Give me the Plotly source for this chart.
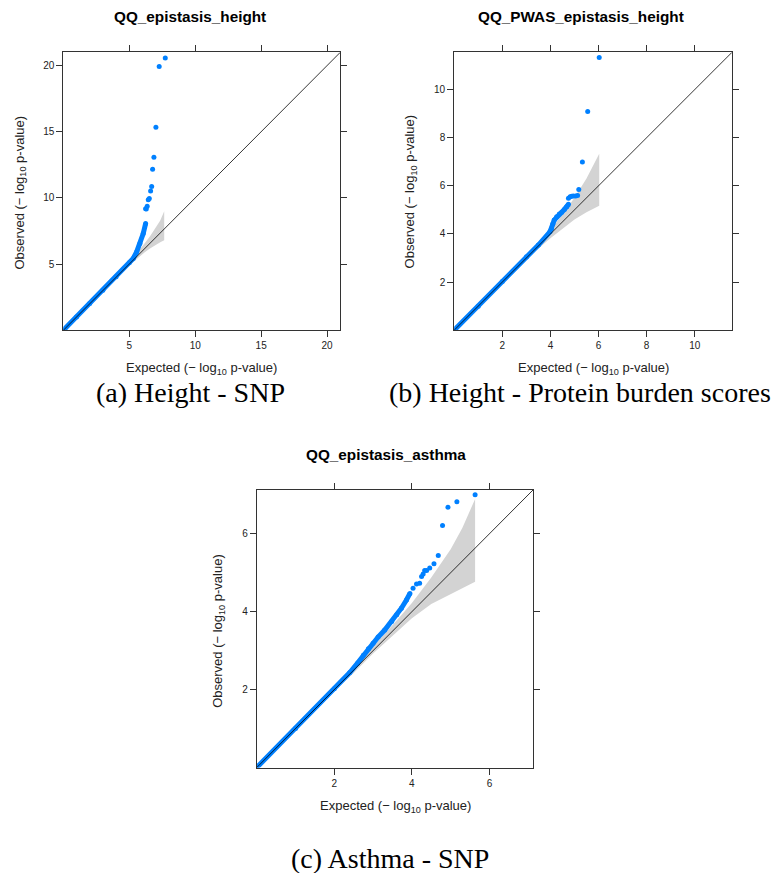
import plotly.graph_objects as go

# ---- QQ data: -log10 p-values (expected vs observed) ----
# Panel (a): epistasis, height, SNP
a_body_exp = [0.0, 1.0, 2.0, 3.0, 4.0, 5.0, 5.30, 5.56, 5.81, 6.06, 6.24]
a_body_obs = [0.0, 1.0, 2.02, 3.03, 4.05, 5.10, 5.43, 5.92, 6.56, 7.31, 8.06]
a_tail_exp = [6.24, 6.29, 6.36, 6.44, 6.52, 6.62, 6.70, 6.77, 6.87, 7.02, 7.27, 7.73]
a_tail_obs = [9.19, 9.17, 9.37, 9.87, 9.95, 10.52, 10.87, 12.16, 13.08, 15.34, 19.92, 20.57]
a_band_exp = [5.0, 5.4, 5.8, 6.2, 6.6, 7.0, 7.35, 7.65]
a_band_hi = [5.12, 5.6, 6.1, 6.62, 7.15, 7.75, 8.3, 8.99]
a_band_lo = [4.9, 5.25, 5.6, 5.92, 6.2, 6.45, 6.65, 6.8]
a_lim = 21.0
a_ticks = [5, 10, 15, 20]

# Panel (b): PWAS epistasis, height, protein burden scores
b_body_exp = [0.0, 1.0, 2.0, 3.0, 3.5, 3.98, 4.05, 4.10, 4.16, 4.26, 4.37, 4.47, 4.58, 4.68, 4.75]
b_body_obs = [0.0, 1.0, 2.02, 3.04, 3.54, 4.09, 4.23, 4.41, 4.58, 4.71, 4.83, 4.90, 5.02, 5.13, 5.23]
b_tail_exp = [4.75, 4.82, 4.88, 4.95, 5.05, 5.13, 5.18, 5.33, 5.55, 6.03]
b_tail_obs = [5.48, 5.55, 5.57, 5.58, 5.58, 5.60, 5.85, 6.99, 9.09, 11.33]
b_band_exp = [3.0, 3.5, 4.0, 4.5, 5.0, 5.5, 6.03]
b_band_hi = [3.05, 3.6, 4.17, 4.8, 5.5, 6.3, 7.33]
b_band_lo = [2.95, 3.4, 3.82, 4.22, 4.6, 4.9, 5.17]
b_lim = 11.55
b_ticks = [2, 4, 6, 8, 10]

# Panel (c): epistasis, asthma, SNP
c_body_exp = [0.0, 1.0, 2.0, 2.4, 2.6, 2.75, 2.88, 3.0, 3.13, 3.30, 3.48, 3.61, 3.73, 3.86, 3.95]
c_body_obs = [0.0, 1.0, 2.02, 2.44, 2.68, 2.88, 3.05, 3.19, 3.35, 3.53, 3.75, 3.92, 4.09, 4.30, 4.47]
c_tail_exp = [4.03, 4.12, 4.20, 4.25, 4.29, 4.33, 4.38, 4.46, 4.57, 4.68, 4.79, 4.93, 5.16, 5.63]
c_tail_obs = [4.60, 4.71, 4.73, 4.90, 4.97, 5.06, 5.06, 5.12, 5.23, 5.44, 6.21, 6.68, 6.82, 7.00]
c_band_exp = [2.0, 2.5, 3.0, 3.5, 4.0, 4.5, 5.0, 5.3, 5.63]
c_band_hi = [2.03, 2.57, 3.1, 3.65, 4.22, 4.88, 5.6, 6.15, 6.89]
c_band_lo = [1.97, 2.43, 2.93, 3.38, 3.83, 4.2, 4.45, 4.6, 4.77]
c_lim = 7.13
c_ticks = [2, 4, 6]

titles = ["QQ_epistasis_height", "QQ_PWAS_epistasis_height", "QQ_epistasis_asthma"]
captions = ["(a) Height - SNP", "(b) Height - Protein burden scores", "(c) Asthma - SNP"]

W, H = 775, 873
POINT = "#0080ff"
BAND = "#d3d3d3"
FRAME = "#333333"
SANS = "Liberation Sans, Arial, sans-serif"
SERIF = "Liberation Serif, Times New Roman, serif"

XLAB = "Expected (\u2212 log<sub>10</sub> p-value)"
YLAB = "Observed (\u2212 log<sub>10</sub> p-value)"


def px(x):
    return x / W


def py(y):
    return 1 - y / H


fig = go.Figure()

panels = [
    dict(body=(a_body_exp, a_body_obs), tail=(a_tail_exp, a_tail_obs),
         band=(a_band_exp, a_band_hi, a_band_lo), lim=a_lim, ticks=a_ticks,
         box=(63.3, 340.3, 52.3, 330.3), title=(190, 16), xlab=(201.7, 368.3),
         ylab=(20, 192.5), cap=(190, 393)),
    dict(body=(b_body_exp, b_body_obs), tail=(b_tail_exp, b_tail_obs),
         band=(b_band_exp, b_band_hi, b_band_lo), lim=b_lim, ticks=b_ticks,
         box=(454.2, 732.0, 52.3, 330.2), title=(581, 16), xlab=(593.2, 368.3),
         ylab=(410.7, 191.7), cap=(580, 393)),
    dict(body=(c_body_exp, c_body_obs), tail=(c_tail_exp, c_tail_obs),
         band=(c_band_exp, c_band_hi, c_band_lo), lim=c_lim, ticks=c_ticks,
         box=(256.7, 533.3, 489.7, 767.6), title=(386, 454), xlab=(395, 806),
         ylab=(219, 630.8), cap=(390, 858)),
]

annotations = []
for i, p in enumerate(panels, start=1):
    xa = "x" if i == 1 else f"x{i}"
    ya = "y" if i == 1 else f"y{i}"
    bx, bhi, blo = p["band"]

    # confidence band
    fig.add_trace(go.Scatter(
        x=bx + bx[::-1], y=bhi + blo[::-1], mode="lines", fill="toself",
        fillcolor=BAND, line=dict(width=0, color=BAND), hoverinfo="skip",
        xaxis=xa, yaxis=ya))
    # dense bulk of the observed p-values
    fig.add_trace(go.Scatter(
        x=p["body"][0], y=p["body"][1], mode="lines+markers",
        line=dict(color=POINT, width=5), marker=dict(color=POINT, size=5),
        xaxis=xa, yaxis=ya))
    # individual tail points
    fig.add_trace(go.Scatter(
        x=p["tail"][0], y=p["tail"][1], mode="markers",
        marker=dict(color=POINT, size=5), xaxis=xa, yaxis=ya))
    # identity line
    fig.add_trace(go.Scatter(
        x=[0, p["lim"]], y=[0, p["lim"]], mode="lines",
        line=dict(color="black", width=0.8), xaxis=xa, yaxis=ya))

    x0, x1, y0, y1 = p["box"]
    axis_common = dict(
        showgrid=False, zeroline=False, showline=True, linecolor=FRAME,
        linewidth=1, mirror="allticks", ticks="outside", ticklen=6,
        tickwidth=1, tickcolor=FRAME, tickvals=p["ticks"],
        range=[0, p["lim"]], tickfont=dict(family=SANS, size=10, color="#222"),
    )
    fig.update_layout(**{
        ("xaxis" if i == 1 else f"xaxis{i}"): dict(
            domain=[px(x0), px(x1)], anchor=ya, **axis_common),
        ("yaxis" if i == 1 else f"yaxis{i}"): dict(
            domain=[py(y1), py(y0)], anchor=xa, **axis_common),
    })

    tx, ty = p["title"]
    annotations.append(dict(
        text=f"<b>{titles[i-1]}</b>", x=px(tx), y=py(ty), xref="paper",
        yref="paper", showarrow=False, xanchor="center", yanchor="middle",
        font=dict(family=SANS, size=15.3, color="black")))
    lx, ly = p["xlab"]
    annotations.append(dict(
        text=XLAB, x=px(lx), y=py(ly), xref="paper", yref="paper",
        showarrow=False, xanchor="center", yanchor="middle",
        font=dict(family=SANS, size=13, color="#222")))
    vx, vy = p["ylab"]
    annotations.append(dict(
        text=YLAB, x=px(vx), y=py(vy), xref="paper", yref="paper",
        showarrow=False, xanchor="center", yanchor="middle", textangle=-90,
        font=dict(family=SANS, size=13, color="#222")))
    cx, cy = p["cap"]
    annotations.append(dict(
        text=captions[i-1], x=px(cx), y=py(cy), xref="paper", yref="paper",
        showarrow=False, xanchor="center", yanchor="middle",
        font=dict(family=SERIF, size=28, color="black")))

fig.update_layout(
    width=W, height=H, margin=dict(l=0, r=0, t=0, b=0),
    paper_bgcolor="white", plot_bgcolor="white", showlegend=False,
    annotations=annotations,
)

fig.write_html("out.html")
